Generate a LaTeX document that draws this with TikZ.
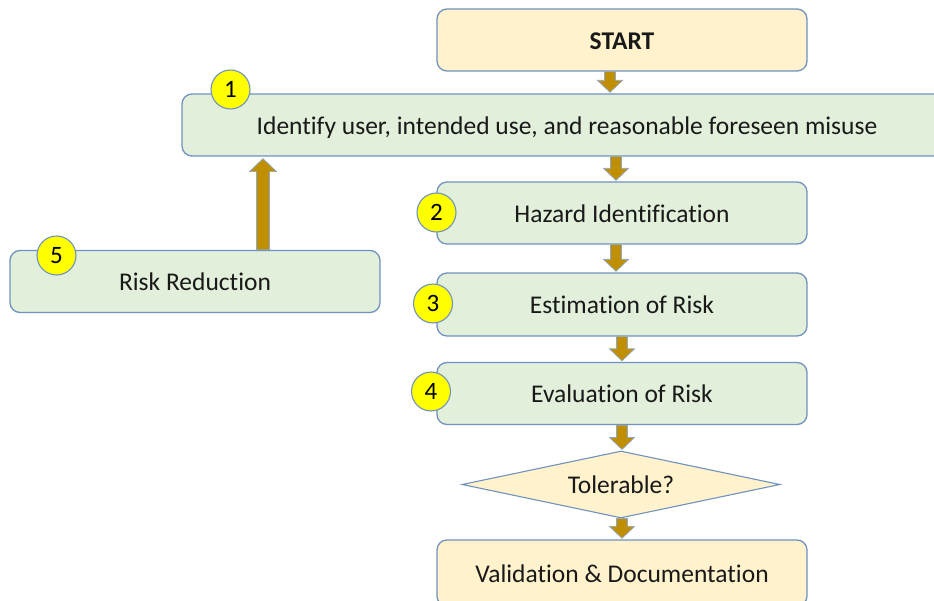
\documentclass[tikz,border=0pt]{standalone}
\usepackage{fontspec}
\setmainfont{Carlito}[Ligatures=NoCommon]
\usetikzlibrary{shapes.geometric,calc}
\definecolor{boxgreen}{HTML}{E2EFDA}
\definecolor{boxcream}{HTML}{FFF2CC}
\definecolor{edgeblue}{HTML}{7092BE}
\definecolor{arrowgold}{HTML}{BF8F00}
\definecolor{dotyellow}{HTML}{FFFF00}
\tikzset{
  procbox/.style={draw=edgeblue, line width=1.3pt, rounded corners=10pt, fill=boxgreen,
    minimum height=62pt, inner sep=0pt, text height=23pt, text depth=4.5pt,
    font=\fontsize{25.5}{30}\selectfont, text=black!90},
  termbox/.style={procbox, fill=boxcream},
  decbox/.style={draw=edgeblue, line width=1.1pt, fill=boxcream, shape=diamond, aspect=4.7,
    minimum width=318pt, minimum height=67pt, inner sep=0pt, text height=23pt, text depth=4.5pt,
    font=\fontsize{25.5}{30}\selectfont, text=black!90},
  numdot/.style={circle, draw=edgeblue, line width=1.1pt, fill=dotyellow, minimum size=39pt,
    inner sep=0pt, font=\fontsize{25}{30}\selectfont},
  blkarrow/.style={fill=arrowgold, draw=edgeblue!80, line width=0.7pt, line join=miter}
}
% #1 x position (pt), #2 upper node, #3 lower node
\newcommand{\blkdown}[3]{%
  \draw[blkarrow] let \p1=(#2.south), \p2=(#3.north) in
    (#1-5.5pt,\y1) -- (#1+5.5pt,\y1) -- (#1+5.5pt,\y2+13pt) -- (#1+12.5pt,\y2+13pt)
    -- (#1,\y2+1pt) -- (#1-12.5pt,\y2+13pt) -- (#1-5.5pt,\y2+13pt) -- cycle;}
\begin{document}
\begin{tikzpicture}[x=1pt,y=-1pt]
\useasboundingbox (0,0) rectangle (934,601);
\clip (0,0) rectangle (934,601);
\node[termbox, minimum width=370pt, font=\fontsize{25.5}{30}\selectfont\bfseries] (start) at (622,40) {START};
\node[procbox, minimum width=770pt] (b1) at (567,125) {Identify user, intended use, and reasonable foreseen misuse};
\node[procbox, minimum width=370pt] (b2) at (622,213) {Hazard Identification};
\node[procbox, minimum width=370pt, minimum height=63pt] (b3) at (622,304.5) {Estimation of Risk};
\node[procbox, minimum width=370pt] (b4) at (622,393.5) {Evaluation of Risk};
\node[decbox] (tol) at (621,484.5) {Tolerable?};
\node[termbox, minimum width=370pt, minimum height=66pt] (val) at (622,573) {Validation \& Documentation};
\node[procbox, minimum width=370pt] (rr) at (195,281.5) {Risk Reduction};
\node[numdot] (n1) at (230.5,89.5) {1};
\node[numdot] (n2) at (436.5,212.5) {2};
\node[numdot] (n3) at (433,303.5) {3};
\node[numdot] (n4) at (431,391.5) {4};
\node[numdot] (n5) at (56.5,255.5) {5};
\blkdown{610pt}{start}{b1}
\blkdown{616pt}{b1}{b2}
\blkdown{616pt}{b2}{b3}
\blkdown{622pt}{b3}{b4}
\blkdown{622pt}{b4}{tol}
\blkdown{622pt}{tol}{val}
\draw[blkarrow] let \p1=(rr.north), \p2=(b1.south) in
  (256.5pt,\y1) -- (269.5pt,\y1) -- (269.5pt,\y2-15pt) -- (276.5pt,\y2-15pt)
  -- (263pt,\y2-2pt) -- (249.5pt,\y2-15pt) -- (256.5pt,\y2-15pt) -- cycle;
\end{tikzpicture}
\end{document}
